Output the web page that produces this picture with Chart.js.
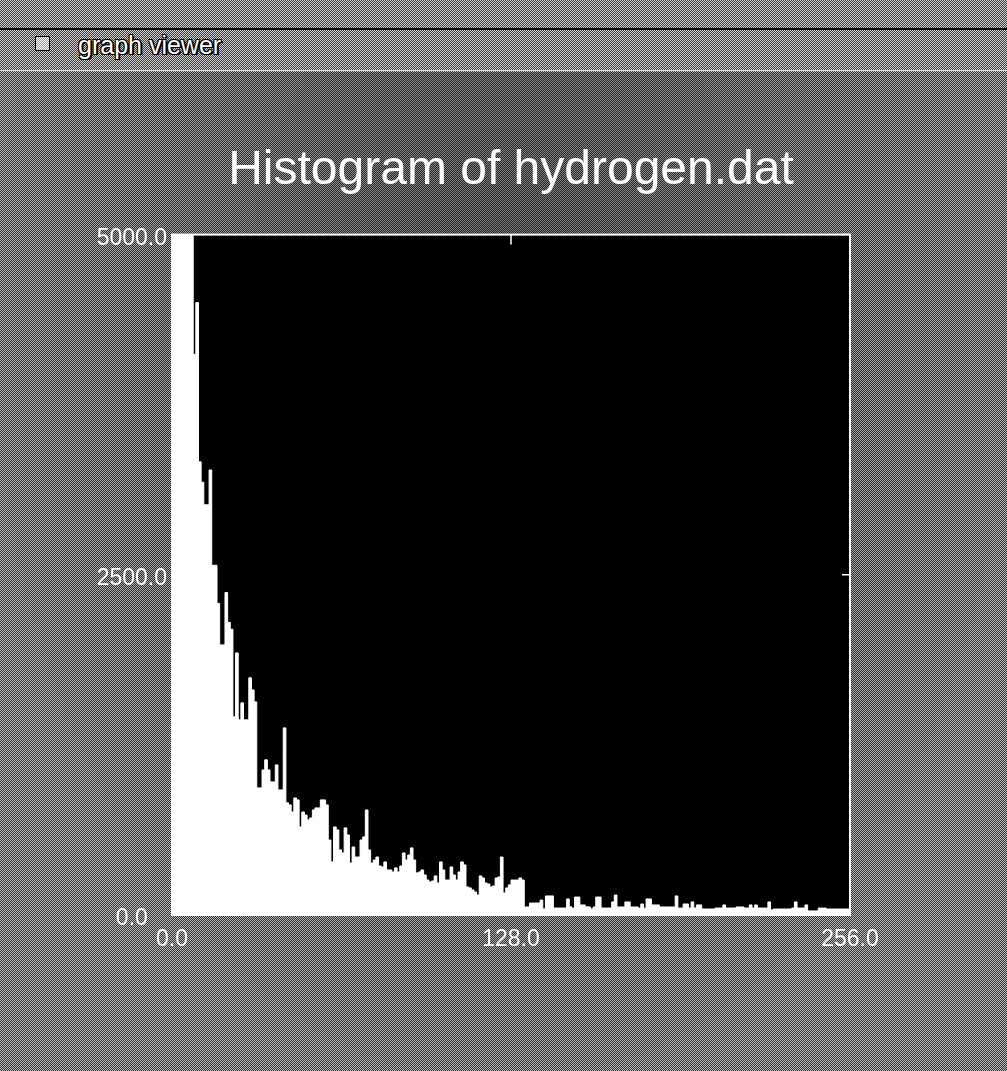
<!DOCTYPE html>
<html>
<head>
<meta charset="utf-8">
<title>graph viewer</title>
<script src="https://cdn.jsdelivr.net/npm/chart.js@4.4.1/dist/chart.umd.min.js"></script>
<style>
  html, body { margin: 0; padding: 0; }
  body {
    width: 1007px; height: 1071px; overflow: hidden; position: relative;
    background-color: #878787;
    background-image: repeating-conic-gradient(#3a3a3a 0 25%, #d4d4d4 0 50%);
    background-size: 2px 2px;
    font-family: "Liberation Sans", Arial, sans-serif;
  }
  #shade {
    position: absolute; left: 0; top: 72px; width: 1007px; height: 999px;
    background: radial-gradient(ellipse at 50% 25%, rgba(0,0,0,0.45), rgba(0,0,0,0.12) 75%);
  }
  #line1 { position: absolute; left: 0; top: 28px; width: 1007px; height: 2px; background: #000; }
  #line2 { position: absolute; left: 0; top: 70px; width: 1007px; height: 1px; background: #e0e0e0; }
  #icon {
    position: absolute; left: 35px; top: 36px; width: 13px; height: 13px;
    border: 1px solid #000;
    background-color: #ccc;
    background-image: repeating-conic-gradient(#fff 0 25%, #999 0 50%);
    background-size: 2px 2px;
  }
  #caption {
    position: absolute; left: 78px; top: 31px; color: #fff; font-size: 25px; line-height: 28px;
    text-shadow: 1px 1px 0 #000, -1px -1px 0 #000, 1px -1px 0 #000, -1px 1px 0 #000, 2px 1px 0 #000;
  }
  canvas { position: absolute; left: 0; top: 0; }
</style>
</head>
<body>
<div id="shade"></div>
<div id="line1"></div>
<div id="line2"></div>
<div id="icon"></div>
<div id="caption">graph viewer</div>
<canvas id="histChart" width="1007" height="1071"></canvas>
<script>
// histogram counts, one per bin (bins 0..255); the first bins run off the top
const counts = [
  26000, 18500, 13200, 10400, 8700, 7600, 6700, 5900, 5200, 4120,
  4500, 3330, 3180, 3015, 3015, 3270, 2570, 2570, 2290, 1985,
  1985, 2370, 2150, 2100, 1456, 1926, 1434, 1559, 1434, 1434,
  1743, 1654, 1566, 934, 934, 1066, 1140, 1066, 978, 978,
  1103, 919, 919, 1375, 824, 809, 757, 860, 846, 647,
  757, 735, 699, 713, 772, 787, 787, 846, 846, 809,
  551, 390, 647, 625, 478, 456, 640, 588, 382, 500,
  426, 426, 551, 574, 772, 478, 382, 404, 426, 360,
  353, 390, 331, 331, 316, 346, 316, 360, 456, 404,
  441, 493, 404, 309, 316, 331, 294, 257, 243, 250,
  287, 235, 390, 331, 257, 257, 353, 294, 257, 316,
  390, 368, 206, 199, 184, 169, 147, 287, 272, 235,
  228, 206, 213, 272, 279, 426, 162, 199, 221, 257,
  257, 257, 272, 257, 59, 59, 88, 88, 88, 88,
  110, 45, 140, 140, 140, 51, 51, 51, 51, 51,
  118, 60, 50, 132, 132, 74, 74, 60, 59, 45,
  59, 132, 132, 51, 51, 51, 51, 96, 147, 59,
  59, 59, 96, 96, 59, 59, 59, 50, 81, 50,
  118, 118, 74, 74, 74, 59, 59, 59, 59, 59,
  59, 140, 51, 51, 81, 81, 51, 96, 51, 74,
  74, 44, 44, 44, 44, 44, 51, 51, 51, 74,
  51, 51, 51, 51, 59, 59, 59, 51, 51, 74,
  51, 74, 51, 51, 51, 51, 96, 37, 44, 44,
  44, 44, 44, 44, 44, 51, 96, 51, 51, 51,
  74, 30, 30, 30, 30, 51, 51, 51, 44, 44,
  44, 44, 44, 44, 44, 44
];
const xTickValues = [0, 128, 256];
const xTickLabels = ['0.0', '128.0', '256.0'];
const yTickValues = [0, 2500, 5000];
const yTickLabels = ['0.0', '2500.0', '5000.0'];

const fontFamily = '"Liberation Sans", Arial, sans-serif';

// step outline: each count holds from its bin start to the next bin
const steps = counts.map((c, i) => ({ x: i, y: c }));
steps.push({ x: counts.length, y: counts[counts.length - 1] });

// black plot box, white frame and little inward ticks
const frame = {
  id: 'frame',
  beforeDatasetsDraw(chart) {
    const { ctx, chartArea: a } = chart;
    ctx.save();
    ctx.fillStyle = '#000';
    ctx.fillRect(a.left, a.top, a.width, a.height);
    ctx.restore();
  },
  afterDatasetsDraw(chart) {
    const { ctx, chartArea: a, scales } = chart;
    ctx.save();
    ctx.strokeStyle = '#fff';
    ctx.lineWidth = 2;
    ctx.strokeRect(a.left, a.top, a.width, a.height);
    ctx.lineWidth = 1.5;
    ctx.beginPath();
    xTickValues.forEach(v => {
      const px = scales.x.getPixelForValue(v);
      ctx.moveTo(px, a.top); ctx.lineTo(px, a.top + 10);
    });
    yTickValues.forEach(v => {
      const py = scales.y.getPixelForValue(v);
      ctx.moveTo(a.right, py); ctx.lineTo(a.right - 8, py);
    });
    ctx.stroke();
    ctx.restore();
  }
};

new Chart(document.getElementById('histChart'), {
  type: 'line',
  data: {
    datasets: [{
      data: steps,
      stepped: 'after',
      fill: 'origin',
      backgroundColor: '#fff',
      borderColor: '#fff',
      borderWidth: 1,
      pointRadius: 0,
      clip: 0
    }]
  },
  options: {
    responsive: false,
    animation: false,
    events: [],
    layout: { padding: { left: 0, right: 157, top: 0, bottom: 0 } },
    plugins: {
      legend: { display: false },
      tooltip: { enabled: false },
      title: {
        display: true,
        fullSize: false,
        text: 'Histogram of hydrogen.dat',
        color: '#fff',
        font: { family: fontFamily, size: 48, weight: 'normal', lineHeight: 1.2 },
        padding: { top: 142, bottom: 35 }
      }
    },
    scales: {
      x: {
        type: 'linear',
        min: 0, max: 256,
        afterFit(s) { s.height = 156; },
        afterBuildTicks(s) { s.ticks = xTickValues.map(v => ({ value: v })); },
        ticks: {
          color: '#fff',
          font: { family: fontFamily, size: 23 },
          padding: 11,
          maxRotation: 0,
          autoSkip: false,
          callback: (v, i) => xTickLabels[i]
        },
        grid: { display: false, drawTicks: false },
        border: { display: false }
      },
      y: {
        type: 'linear',
        min: 0, max: 5000,
        afterFit(s) { s.width = 172; },
        afterBuildTicks(s) { s.ticks = yTickValues.map(v => ({ value: v })); },
        ticks: {
          color: '#fff',
          font: { family: fontFamily, size: 23 },
          padding: 5,
          crossAlign: 'center',
          labelOffset: 4,
          autoSkip: false,
          callback: (v, i) => yTickLabels[i]
        },
        grid: { display: false, drawTicks: false },
        border: { display: false }
      }
    }
  },
  plugins: [frame]
});
</script>
</body>
</html>
